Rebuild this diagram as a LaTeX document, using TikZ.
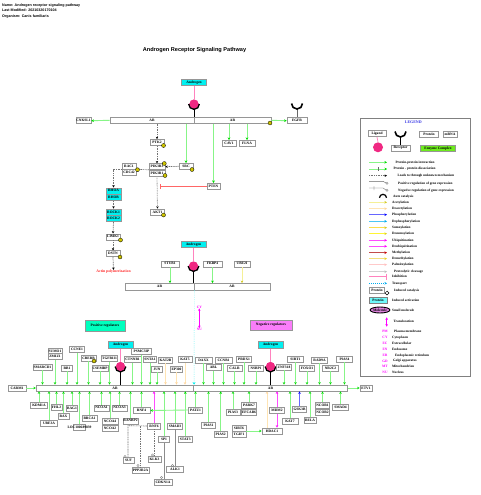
\documentclass[tikz,border=0pt]{standalone}
\usepackage{fontspec}
\setmainfont{Liberation Serif}
\newfontfamily\hdfont{Liberation Sans}
\usetikzlibrary{arrows.meta,shapes.geometric}
\definecolor{lgreen}{RGB}{135,245,135}
\definecolor{hgreen}{RGB}{0,220,0}
\definecolor{boxgray}{RGB}{150,150,150}
\definecolor{acyan}{RGB}{0,240,240}
\definecolor{apink}{RGB}{240,40,130}
\definecolor{lpink}{RGB}{255,130,190}
\definecolor{ymark}{RGB}{205,195,0}
\definecolor{peach}{RGB}{255,228,180}
\definecolor{mgnt}{RGB}{255,0,255}
\definecolor{lyellow}{RGB}{245,240,150}
\tikzset{
 txtsmall/.style={font=\fontsize{3.6}{4}\selectfont\bfseries},
 pbox/.style={draw=boxgray,line width=0.6pt,fill=white,minimum height=6pt,inner sep=0pt,txtsmall},
 cyanbox/.style={pbox,fill=acyan,draw=boxgray},
 barbox/.style={draw=boxgray,line width=0.6pt,fill=white,inner sep=0pt,minimum height=6pt,txtsmall},
 ga/.style={draw=lgreen,line width=0.9pt,-{Stealth[length=2.6pt,width=2.6pt,color=hgreen]}},
 gaY/.style={draw=lyellow,line width=0.9pt,-{Stealth[length=2.6pt,width=2.6pt,color=yellow!80!black]}},
 gaP/.style={draw=peach,line width=0.9pt,-{Stealth[length=2.6pt,width=2.6pt,color=peach!85!orange]}},
 gaM/.style={draw=mgnt!70,line width=0.9pt,-{Stealth[length=2.6pt,width=2.6pt,color=mgnt]}},
 gaB/.style={draw=blue!60,line width=0.75pt,-{Stealth[length=2.6pt,width=2.6pt,color=blue]}},
 dsh/.style={draw=black!55,line width=0.7pt,dash pattern=on 1pt off 0.7pt,-{Stealth[length=2.4pt,width=2.4pt,color=black]}},
 dshp/.style={draw=black!55,line width=0.6pt,dash pattern=on 1pt off 0.7pt},
 ycirc/.style={draw=black,line width=0.3pt,fill=ymark},
 hook/.style={draw=black!50,line width=0.4pt},
 legtxt/.style={font=\fontsize{3.4}{4}\selectfont\bfseries,inner sep=0pt,anchor=west},
 loctxt/.style={font=\fontsize{3.5}{4}\selectfont\bfseries,text=mgnt,inner sep=0pt},
}
\newcommand{\protn}[5][]{\node[pbox,minimum width=#4pt,#1] (#2) at (#3) {#5};}
\newcommand{\ymk}[1]{\draw[ycirc] (#1) circle (2);}
\newcommand{\vdn}[3][ga]{\draw[#1] (#2.south) -- (#2.south |- #3.north);}
\newcommand{\vup}[3][ga]{\draw[#1] (#2.north) -- (#2.north |- #3.south);}
% receptor: androgen box, pink line, arc, ball, stem to bar
\newcommand{\andro}[4]{%
 \node[cyanbox,minimum width=25pt,minimum height=6.5pt] (#1box) at (#2,#3) {Androgen};
 \node[circle,fill=apink,inner sep=0pt,minimum size=9pt] (#1ball) at (#2,#3+21.5) {};
 \draw[black,line width=0.9pt] (#1ball.center) -- (#1ball.center |- #4.north);
 \draw[black,line width=1.6pt] (#2-5.2,#3+21.5) arc[start angle=180,end angle=0,radius=5.2];
 \draw[lpink,line width=0.7pt] (#1box.south) -- (#1ball.north);
 \node[circle,fill=apink,inner sep=0pt,minimum size=9pt] (#1top) at (#1ball.center) {};}
\newcommand{\legrow}[5]{%
 \coordinate (#1a) at (369,#2); \coordinate (#1b) at (387,#2);
 \draw[#5] (#1a) -- (#1b);
 \node[legtxt] (#1t) at (#3,#2) {#4};}
\begin{document}
\begin{tikzpicture}[x=1pt,y=-1pt]
\useasboundingbox (0,0) rectangle (480,495);
\fill[white] (0,0) rectangle (480,495);
% header
\node[anchor=west,inner sep=0pt,font=\hdfont\fontsize{3.65}{4}\selectfont\bfseries] (hd1) at (2,5.5) {Name: Androgen receptor signaling pathway};
\node[anchor=west,inner sep=0pt,font=\hdfont\fontsize{3.65}{4}\selectfont\bfseries] (hd2) at (2,10.5) {Last Modified: 20210320170104};
\node[anchor=west,inner sep=0pt,font=\hdfont\fontsize{3.65}{4}\selectfont\bfseries] (hd3) at (2,16.5) {Organism: Canis familiaris};
\node[inner sep=0pt,font=\hdfont\fontsize{5.6}{6}\selectfont\bfseries] (title) at (194.5,50) {Androgen Receptor Signaling Pathway};

% ===== top bar
\node[barbox,minimum width=84pt] (a1L) at (152,120.3) {AR};
\node[barbox,minimum width=77pt] (a1R) at (232.5,120.3) {AR};
\andro{r1}{194}{82.5}{a1L}
\protn{cnk}{83.5,120.7}{15}{CNKSL1}
\draw[ga] (a1L.west) -- (cnk.east);
\protn{egfr}{297,120.7}{20}{EGFR}
\coordinate (egfrY) at (297,108.5);
\draw[black!60,line width=0.9pt] (egfrY) -- (egfr.north);
\draw[black,line width=1.6pt] (291.5,103.5) arc[start angle=180,end angle=0,radius=5.5];
\draw[ga] (a1R.east) -- (egfr.west);
\ymk{270,123}
\protn{cav}{229,143.3}{14}{CAV1}
\protn{flna}{247,143.3}{16}{FLNA}
\draw[ga] (cav.north |- a1R.south) -- (cav.north);
\draw[ga] (flna.north |- a1R.south) -- (flna.north);
\protn{src}{186,166.3}{14}{SRC}
\draw[ga] (src.north |- a1R.south) -- (src.north);
\ymk{192,169.5}
\protn{pten}{213.5,186.3}{13}{PTEN}
\draw[ga] (pten.north |- a1R.south) -- (pten.north);
\protn{ptk}{157,142.5}{14}{PTK2}
\ymk{163.5,145.5}
\draw[dsh] (ptk.north |- a1L.south) -- (ptk.north);
\protn{pik3}{157,166.7}{16}{PIK3R3}
\protn{pik1}{157,172.9}{16}{PIK3R1}
\draw[dsh] (ptk.south) -- (pik3.north);
\ymk{164.3,163.5}
\ymk{165,175.5}
\draw[dsh] (src.west) -- (pik3.east);
\protn{rac}{129,166.5}{14}{RAC1}
\protn{cdc}{129,172.5}{14}{CDC42}
\coordinate (racJoin) at (136,169.5);
\coordinate (pikJoin) at (149,169.7);
\draw[dsh] (pikJoin) -- (racJoin);
\ymk{137.5,169.7}
\coordinate (racL) at (122,169.7);
\coordinate (turn) at (113.5,169.7);
\protn[cyanbox]{rhoa}{113.5,190.8}{15}{RHOA}
\protn[cyanbox]{rhob}{113.5,197.6}{15}{RHOB}
\draw[dsh] (racL) -- (turn) -- (rhoa.north);
\protn[cyanbox]{rock1}{113.5,211.9}{15}{ROCK1}
\protn[cyanbox]{rock2}{113.5,218.5}{15}{ROCK2}
\draw[dsh] (rhob.south) -- (rock1.north);
\protn{limk}{113,236.8}{14}{LIMK1}
\ymk{120.5,240}
\draw[dsh] (rock2.south) -- (limk.north);
\protn{dstn}{113,253.7}{14}{DSTN}
\ymk{120,257}
\draw[dsh] (limk.south) -- (dstn.north);
\node[inner sep=0pt,text=red!85,font=\fontsize{3.8}{4}\selectfont\bfseries] (actin) at (113.5,271.8) {Actin polymerization};
\draw[dsh] (dstn.south) -- (actin.north);
\protn{akt}{157.5,212}{14}{AKT1}
\ymk{163.5,215}
\draw[draw=black!35,line width=0.8pt,dash pattern=on 1pt off 0.7pt,-{Stealth[length=2.4pt,width=2.4pt,color=black]}] (pik1.south) -- (akt.north);
\coordinate (ptenEnd) at (159.5,186.3);
\draw[draw=red!60,line width=0.7pt,-{Bar[width=5pt,length=0.6pt]}] (pten.west) -- (ptenEnd);

% ===== middle bar
\node[barbox,minimum width=69pt,minimum height=6.5pt] (a2L) at (159.5,286.7) {AR};
\node[barbox,minimum width=76pt,minimum height=6.5pt] (a2R) at (232,286.7) {AR};
\andro{r2}{193.5}{244.5}{a2L}
\protn{stub}{170,263.8}{18}{STUB1}
\protn{fkbp}{212.5,263.8}{19}{FKBP4}
\protn{ube}{242,263.8}{16}{UBE2I}
\vdn{stub}{a2L}
\vdn{fkbp}{a2R}
\vdn[gaY]{ube}{a2R}

% ===== bottom bar
\node[barbox,minimum width=157.5pt] (a3L) at (115,388) {AR};
\node[barbox,minimum width=154pt] (a3R) at (270.5,388) {AR};
\draw[draw=acyan!60,line width=0.4pt,dash pattern=on 1pt off 1.2pt,-{Stealth[length=2.6pt,width=3pt,color=acyan]}] (a2L.south east) -- (a3L.north east);
\node[loctxt] (cyT) at (199.3,307) {CY};
\node[loctxt] (nuT) at (199.3,329.5) {NU};
\draw[draw=mgnt,line width=0.5pt,{Stealth[length=2.4pt,width=2.4pt]}-{Stealth[length=2.4pt,width=2.4pt]}] (cyT.south) -- (nuT.north);
\node[draw=boxgray,line width=0.5pt,fill={rgb,255:red,0;green,255;blue,190},minimum width=40pt,minimum height=11pt,inner sep=0pt,txtsmall] (posr) at (105,325.5) {Positive regulators};
\node[draw=boxgray,line width=0.5pt,fill={rgb,255:red,250;green,125;blue,250},minimum width=42pt,minimum height=10pt,inner sep=0pt,txtsmall] (negr) at (271,325) {Negative regulators};
\andro{r3}{120.5}{345}{a3L}
\andro{r4}{270.5}{345}{a3R}
\protn{carm}{17,388}{18}{CARM1}
\draw[ga] (carm.east) -- (a3L.west);
\protn{etv}{366,388}{12}{ETV1}
\draw[ga] (a3R.east) -- (etv.west);
% above the bar
\protn{smarc}{42.5,367}{19}{SMARCD1}
\protn{sumo}{55,351}{14}{SUMO1}
\protn{zmiz}{55,356.7}{14}{ZMIZ1}
\protn{rbo}{67,368}{11}{RB1}
\protn{ccne}{77,349.5}{15}{CCNE1}
\protn{creb}{88.5,358}{15}{CREBB}
\protn{csem}{100,368}{16}{CSEMBP}
\protn{tgf}{109.5,358.5}{16}{TGFB1I1}
\protn{ctnn}{132.5,359.5}{17}{CTNNB1}
\protn{psmc}{141.5,351.5}{20}{PSMC3IP}
\protn{snta}{150,359.5}{13}{SNTA1}
\protn{jun}{157,369}{10.5}{JUN}
\protn{kat2}{165.5,360}{14}{KAT2B}
\protn{ep3}{176.5,369}{12}{EP300}
\protn{kat5}{185,359.5}{14}{KAT5}
\protn{daxx}{203.5,360}{17}{DAXX}
\protn{abl}{213.5,367.5}{15}{ABL}
\protn{ccnb}{223.5,360}{17}{CCNB1}
\protn{calr}{234.5,368}{15}{CALR}
\protn{prdx}{244,359}{15.5}{PRDX1}
\protn{nsbp}{256,368}{15}{NSBP1}
\protn{znf}{284,367}{14.5}{ZNF318}
\protn{sirt}{295.5,359}{16}{SIRT1}
\protn{foxo}{307,368}{15.5}{FOXO1}
\protn{rad9}{319.5,360}{16}{RAD9A}
\protn{nr2c}{330.5,368}{16}{NR2C2}
\protn{pias4}{344.5,359}{15.5}{PIAS4}
\ymk{94,361}
\vdn{smarc}{a3L}\vdn{zmiz}{a3L}\vdn{rbo}{a3L}\vdn{ccne}{a3L}\vdn{creb}{a3L}\vdn{csem}{a3L}\vdn{tgf}{a3L}
\vdn{ctnn}{a3L}\vdn{psmc}{a3L}\vdn{snta}{a3L}\vdn{jun}{a3L}
\vdn[gaP]{kat2}{a3L}\vdn[gaP]{ep3}{a3L}\vdn[gaP]{kat5}{a3L}
\vdn{daxx}{a3R}\vdn{abl}{a3R}\vdn{ccnb}{a3R}\vdn{calr}{a3R}\vdn{prdx}{a3R}\vdn{nsbp}{a3R}
\vdn{znf}{a3R}\vdn{sirt}{a3R}\vdn{foxo}{a3R}\vdn{rad9}{a3R}\vdn{nr2c}{a3R}\vdn{pias4}{a3R}
% below the bar
\protn{kdm}{39,405.7}{17.5}{KDM1A}
\protn{fhl}{56.5,407.2}{11}{FHL2}
\protn{ube3}{49,423.2}{16.5}{UBE3A}
\protn{bag}{72,408.2}{11.5}{BAG1}
\protn{bax}{63.5,416}{11}{BAX}
\protn{loc}{79.5,427.5}{11.5}{}
\node[inner sep=0pt,txtsmall] (locT) at (loc) {LOC100689839};
\protn{brca}{89.5,418}{15}{BRCA1}
\protn{ncoa1}{101.5,407.8}{15}{NCOA1}
\protn{ncoa3}{119.5,407.8}{15}{NCOA3}
\protn{ncoa4}{110,421}{16}{NCOA4}
\protn{ncoa2}{110,428}{16}{NCOA2}
\protn{ranb}{130.5,420.8}{15}{RANBP2}
\protn{rnf4}{141.5,410.5}{17}{RNF4}
\protn{patz}{195.5,410}{14.5}{PATZ1}
\protn{rnf6}{154,426}{13}{RNF6}
\protn{spo}{164,439.3}{10.5}{SP1}
\protn{smad3}{175,426}{15}{SMAD3}
\protn{stat}{185.3,439.5}{14.5}{STAT3}
\protn{pias1}{208.5,425.5}{14.5}{PIAS1}
\protn{pias2}{220.7,434}{13.5}{PIAS2}
\protn{pias3}{233,412}{14}{PIAS3}
\protn{park}{249,405.5}{15.5}{PARK7}
\protn{efc}{249,412}{15.5}{EFCAB6}
\protn{sirt6}{239,428}{14}{SIRT6}
\protn{tgif}{239,434.5}{14}{TGIF1}
\protn{hdac}{272,431}{20}{HDAC1}
\protn{mdm}{277,410.5}{15.5}{MDM2}
\protn{kat7}{290,421}{16}{KAT7}
\protn{gsk}{299.5,409.5}{14}{GSK3B}
\protn{rela}{310,420.5}{12}{RELA}
\protn{ncor1}{322.5,405.5}{14.5}{NCOR1}
\protn{ncor2}{322.5,412}{14.5}{NCOR2}
\protn{smad4}{340.5,407.5}{16}{SMAD4}
\vup{kdm}{a3L}\vup{fhl}{a3L}\vup{ube3}{a3L}\vup{bag}{a3L}\vup{bax}{a3L}\vup{loc}{a3L}\vup{brca}{a3L}
\vup{ncoa1}{a3L}\vup{ncoa3}{a3L}\vup{ncoa4}{a3L}\vup{ranb}{a3L}\vup{rnf4}{a3L}
\vup[gaM]{rnf6}{a3L}\vup{spo}{a3L}\vup{smad3}{a3L}\vup{stat}{a3L}
\vup{patz}{a3R}\vup{pias1}{a3R}\vup{pias2}{a3R}\vup{pias3}{a3R}\vup{park}{a3R}
\vup{kat7}{a3R}\vup[gaB]{gsk}{a3R}\vup{rela}{a3R}\vup{ncor1}{a3R}\vup{smad4}{a3R}
\draw[ga] (patz.west) -- (rnf4.east);
\coordinate (hdacTopP) at (267,428);
\draw[gaP] (hdacTopP) -- (hdacTopP |- a3R.south);
\vup[gaM]{mdm}{a3R}
\draw[gaM] (mdm.south) -- (mdm.south |- hdac.north);
\coordinate (tgifE) at (246,431);
\draw[ga] (tgifE) -- (hdac.west);
% transcription targets
\protn{suf}{128.5,460}{11}{SUF}
\protn{pp}{140.5,470}{17}{PPP2R2A}
\protn{klk}{154.5,459.3}{13}{KLK3}
\protn{cdk}{163,482.6}{18}{CDKN1A}
\protn{alk}{175,469.7}{17}{ALK1}
\coordinate (dj) at (128,425.7);
\draw[dshp] (rnf6.west) -- (dj) -- (suf.north -| dj);
\coordinate (dj2) at (140,425.7);
\draw[dshp] (dj2) -- (pp.north -| dj2);
\draw[dshp] (rnf6.south) -- (klk.north -| rnf6.south);
\draw[black!45,line width=0.7pt] (spo.south) -- (cdk.north -| spo.south);
\draw[black!45,line width=0.8pt] (smad3.south) -- (alk.north -| smad3.south);
\draw[hook] (125,456.5) circle (1.2);
\draw[hook] (138,465.5) circle (1.2);
\draw[hook] (152.5,455) circle (1.2);
\draw[hook] (161.5,477.5) circle (1.2);
\draw[hook] (172.5,465.5) circle (1.2);

% ===== legend
\node[draw=black!50,line width=0.7pt,minimum width=110.5pt,minimum height=258.5pt,inner sep=0pt] (legend) at (415.3,247.5) {};
\node[inner sep=0pt,text={rgb,255:red,50;green,50;blue,230},font=\fontsize{4}{5}\selectfont\bfseries] (legT) at (413.3,122.3) {LEGEND};
\protn{lgLig}{377,133.7}{18}{Ligand}
\node[circle,fill=apink,inner sep=0pt,minimum size=10pt] (lgBall) at (378,147.3) {};
\draw[lpink,line width=0.7pt] (lgLig.south) -- (lgBall.north);
\protn{lgRec}{400.5,148}{19}{Receptor}
\coordinate (lgY) at (400.5,136);
\draw[black,line width=0.9pt] (lgY) -- (lgRec.north);
\draw[black,line width=1.6pt] (395,131.5) arc[start angle=180,end angle=0,radius=5.5];
\protn{lgPr}{429,134.5}{18.5}{Protein}
\protn{lgM}{450,134.5}{14}{mRNA}
\node[pbox,minimum width=35pt,minimum height=6.5pt,fill={rgb,255:red,110;green,235;blue,30}] (lgEC) at (438,148.2) {Enzyme Complex};
\legrow{l1}{162.3}{395.3}{Protein-protein interaction}{ga}
\legrow{l2}{169}{393.3}{Protein - protein dissociation}{ga}
\draw[black!60,line width=0.4pt] (378,167) -- (378,171);
\legrow{l3}{175.7}{397.3}{Leads to through unknown mechanism}{dsh}
\coordinate (l4a) at (369,181.3); \coordinate (l4b) at (383,181.3); \coordinate (l4c) at (386,183);
\draw[black!60,line width=0.4pt] (l4a) -- (l4b) -- (l4c);
\draw[black!60,line width=0.3pt] (387,183.2) circle (1.2);
\node[legtxt] (l4t) at (398,183.3) {Positive regulation of gene expression};
\coordinate (l5a) at (369,188); \coordinate (l5b) at (383,188); \coordinate (l5c) at (386,190);
\draw[black!60,line width=0.4pt] (l5a) -- (l5b) -- (l5c) (374,186) -- (374,190);
\draw[black!60,line width=0.3pt] (387,190.2) circle (1.2);
\node[legtxt] (l5t) at (398,190.3) {Negative regulation of gene expression};
\draw[black,line width=1.2pt] (379.5,197.8) arc[start angle=180,end angle=360,radius=3.5];
\node[legtxt] (l6t) at (393,196.3) {Auto catalysis};
\legrow{l7}{202.3}{392}{Acetylation}{gaY}
\legrow{l8}{208.7}{392}{Deacetylation}{gaP}
\legrow{l9}{214.7}{392}{Phosphorylation}{gaB}
\legrow{l10}{221.3}{392}{Dephosphorylation}{draw=cyan!70,line width=0.75pt,-{Stealth[length=2.6pt,width=2.6pt,color=cyan]}}
\legrow{l11}{227.7}{392}{Sumoylation}{draw=yellow!70!orange!70,line width=0.75pt,-{Stealth[length=2.6pt,width=2.6pt,color=yellow!80!black]}}
\legrow{l12}{233.7}{392}{Desumoylation}{draw=yellow!80,line width=0.75pt,-{Stealth[length=2.6pt,width=2.6pt,color=yellow!85!black]}}
\legrow{l13}{240.3}{392}{Ubiquitination}{gaM}
\legrow{l14}{246.3}{392}{Deubiquitination}{gaM}
\legrow{l15}{252.7}{392}{Methylation}{draw=red!65!black!70,line width=0.75pt,-{Stealth[length=2.6pt,width=2.6pt,color=red!80!black]}}
\legrow{l16}{258.7}{392}{Demethylation}{draw=yellow!60!brown!60,line width=0.75pt,-{Stealth[length=2.6pt,width=2.6pt,color=yellow!70!brown]}}
\legrow{l17}{264.7}{392}{Palmitoylation}{draw=pink!85,line width=0.75pt,-{Stealth[length=2.6pt,width=2.6pt,color=pink]}}
\legrow{l18}{271.7}{394}{Proteolytic cleavage}{draw=black!18,line width=0.75pt,-{Stealth[length=2.6pt,width=2.6pt,color=black!25]}}
\legrow{l19}{276.7}{392}{Inhibition}{draw=lpink,line width=1pt,-{Bar[width=6pt,length=0.6pt]}}
\legrow{l20}{283.3}{392}{Transport}{draw=cyan,line width=0.5pt,dash pattern=on 1pt off 1pt,-{Stealth[length=2.6pt,width=2.6pt,color=cyan]}}
\protn{lgInd}{377,289.8}{15}{Protein}
\draw[black,line width=0.5pt,fill=white] (387,293) circle (1.9);
\node[legtxt] (l21t) at (394,291) {Induced catalysis};
\node[pbox,minimum width=18pt,fill={rgb,255:red,110;green,250;blue,250},draw=black!50] (lgAct) at (378,300.3) {Protein};
\node[legtxt] (l22t) at (392,300) {Induced activation};
\node[ellipse,draw=black,line width=0.9pt,fill={rgb,255:red,220;green,130;blue,220},minimum width=18pt,minimum height=6pt,inner sep=0pt,txtsmall] (lgMol) at (380,310) {Molecule};
\node[legtxt] (l23t) at (392,310) {Small molecule};
\coordinate (l24a) at (386.7,317.3); \coordinate (l24b) at (386.7,326.7);
\draw[draw=mgnt,line width=0.6pt,{Stealth[length=2.6pt,width=2.6pt]}-{Stealth[length=2.6pt,width=2.6pt]}] (l24a) -- (l24b);
\node[legtxt] (l24t) at (393.5,321.3) {Translocation};
\foreach \lid/\ly/\lx/\lab/\txt in {pm/331.7/394/PM/Plasma membrane,cy/337.7/392/CY/Cytoplasm,ec/343.7/392/EC/Extracellular,en/349.7/392/EN/Endosome,er/355.7/395/ER/Endoplasmic reticulum,gd/361/393/GD/Golgi apparatus,mt/366.7/392/MT/Mitochondrion,nu/372.7/392/NU/Nucleus}{
 \node[loctxt] (loc\lid) at (385,\ly) {\lab};
 \node[legtxt] (txt\lid) at (\lx,\ly) {\txt};
}
\end{tikzpicture}
\end{document}
